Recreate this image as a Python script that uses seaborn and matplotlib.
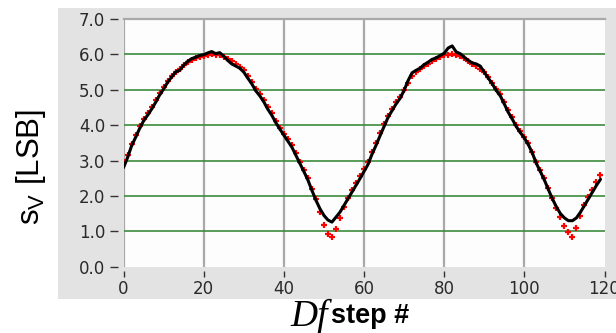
import numpy as np
import pandas as pd
import matplotlib
matplotlib.use("Agg")
import matplotlib.pyplot as plt
from matplotlib.patches import Rectangle
from matplotlib.transforms import ScaledTranslation
import seaborn as sns

# step index of the frequency sweep
steps = list(range(120))

# measured sigma_V (black trace)
measured = [
    2.80, 3.08, 3.41, 3.65, 3.90, 4.12, 4.28, 4.45, 4.64, 4.85,
    5.02, 5.21, 5.36, 5.50, 5.55, 5.69, 5.80, 5.88, 5.92, 5.97,
    5.99, 6.04, 6.08, 6.02, 6.05, 5.95, 5.83, 5.73, 5.67, 5.61,
    5.50, 5.33, 5.17, 4.97, 4.83, 4.66, 4.45, 4.28, 4.07, 3.89,
    3.72, 3.55, 3.38, 3.15, 2.92, 2.69, 2.45, 2.16, 1.88, 1.64,
    1.45, 1.32, 1.26, 1.40, 1.54, 1.73, 1.92, 2.11, 2.30, 2.49,
    2.69, 2.89, 3.18, 3.43, 3.70, 3.96, 4.22, 4.41, 4.60, 4.76,
    4.98, 5.26, 5.48, 5.55, 5.61, 5.71, 5.78, 5.86, 5.90, 5.97,
    6.03, 6.18, 6.24, 6.07, 6.02, 5.92, 5.83, 5.76, 5.73, 5.67,
    5.50, 5.33, 5.17, 4.98, 4.83, 4.60, 4.36, 4.17, 3.96, 3.79,
    3.64, 3.45, 3.21, 2.92, 2.69, 2.45, 2.18, 1.92, 1.69, 1.50,
    1.38, 1.30, 1.30, 1.38, 1.54, 1.73, 1.92, 2.11, 2.30, 2.47,
]

# model sigma_V (red points)
model = [
    2.95, 3.15, 3.48, 3.72, 3.97, 4.18, 4.35, 4.52, 4.70, 4.90,
    5.07, 5.25, 5.38, 5.50, 5.60, 5.70, 5.78, 5.85, 5.90, 5.94,
    5.96, 5.98, 6.00, 5.99, 5.97, 5.93, 5.87, 5.80, 5.72, 5.64,
    5.55, 5.40, 5.22, 5.03, 4.88, 4.70, 4.50, 4.33, 4.12, 3.93,
    3.75, 3.62, 3.45, 3.20, 2.97, 2.74, 2.50, 2.20, 1.90, 1.55,
    1.18, 0.92, 0.85, 1.07, 1.38, 1.70, 1.95, 2.16, 2.36, 2.56,
    2.75, 2.97, 3.25, 3.50, 3.77, 4.02, 4.27, 4.47, 4.65, 4.80,
    5.00, 5.20, 5.38, 5.50, 5.58, 5.66, 5.74, 5.80, 5.87, 5.93,
    5.97, 5.99, 6.00, 5.99, 5.96, 5.90, 5.82, 5.74, 5.68, 5.60,
    5.50, 5.36, 5.20, 5.02, 4.87, 4.65, 4.42, 4.22, 4.00, 3.83,
    3.66, 3.50, 3.25, 2.97, 2.73, 2.50, 2.22, 1.95, 1.65, 1.40,
    1.16, 0.97, 0.85, 1.10, 1.42, 1.75, 1.96, 2.18, 2.40, 2.60,
]

y_ticks = [0.0, 1.0, 2.0, 3.0, 4.0, 5.0, 6.0, 7.0]
x_ticks = [0, 20, 40, 60, 80, 100, 120]

df = pd.DataFrame({"step": steps, "measured": measured, "model": model})

sns.set_theme(style="white")
plt.rcParams["mathtext.fontset"] = "custom"
plt.rcParams["mathtext.rm"] = "Liberation Sans"
plt.rcParams["mathtext.it"] = "Liberation Sans:italic"

W, H = 616, 333
fig = plt.figure(figsize=(W / 100, H / 100), dpi=100, facecolor="white")

# light grey panel behind the plot
panel = Rectangle((58 / W, (H - 299) / H), 1 - 58 / W, (299 - 8) / H,
                  transform=fig.transFigure, facecolor="#e3e3e3",
                  edgecolor="none", zorder=-10)
fig.add_artist(panel)

left, right, top, bottom = 123.5, 604.5, 19.0, 266.7
ax = fig.add_axes([left / W, (H - bottom) / H, (right - left) / W, (bottom - top) / H])
ax.set_zorder(1)
ax.set_facecolor("#fdfdfd")

# grid: grey verticals, green horizontals
for xv in x_ticks[:-1]:
    ax.axvline(xv, color="#a9a9a9", lw=1.6, zorder=1)
for yv in y_ticks[1:-1]:
    ax.axhline(yv, color="#3b8a3b", lw=1.2, zorder=1)

sns.lineplot(data=df, x="step", y="model", ax=ax, color="red", lw=0,
             marker="+", markersize=4.5, markeredgewidth=1.6,
             markeredgecolor="red", zorder=3)
sns.lineplot(data=df, x="step", y="measured", ax=ax, color="black", lw=2.2,
             zorder=4)

ax.set_xlim(0, 120)
ax.set_ylim(0, 7)
ax.set_xticks(x_ticks)
ax.set_xticklabels([str(v) for v in x_ticks])
ax.set_yticks(y_ticks)
ax.set_yticklabels([f"{v:.1f}" for v in y_ticks])
ax.set_xlabel("")
ax.set_ylabel("")

for s in ["right", "bottom", "left"]:
    ax.spines[s].set_visible(False)
ax.spines["top"].set_color("#a9a9a9")
ax.spines["top"].set_linewidth(1.6)

ax.tick_params(axis="y", direction="out", length=5.8, width=1.0, color="#333333",
               pad=7.5, labelsize=12, labelcolor="#2a2a2a", left=True)
ax.tick_params(axis="x", direction="out", length=4.3, width=1.0, color="#333333",
               pad=5.5, labelsize=12, labelcolor="#2a2a2a", bottom=True)
# detach the tick marks from the plot edge
for t in ax.yaxis.get_major_ticks():
    t.tick1line.set_transform(t.tick1line.get_transform() +
                              ScaledTranslation(-5.5 / 100, 0, fig.dpi_scale_trans))
for t in ax.xaxis.get_major_ticks():
    t.tick1line.set_transform(t.tick1line.get_transform() +
                              ScaledTranslation(0, -4.5 / 100, fig.dpi_scale_trans))
for lbl in ax.get_yticklabels() + ax.get_xticklabels():
    lbl.set_fontfamily("DejaVu Sans")

# axis titles
fig.text(31 / W, (H - 167) / H, r"$\mathrm{s_V}$ [LSB]", rotation=90,
         ha="center", va="center", fontsize=22.5, family="Liberation Sans",
         color="black")
fig.text(290 / W, (H - 326) / H, "Df", ha="left", va="baseline", fontsize=27,
         family="Liberation Serif", style="italic", color="black")
fig.text(331 / W, (H - 323) / H, "step #", ha="left", va="baseline", fontsize=19.5,
         family="Liberation Sans", weight="bold", color="black")

fig.savefig("out.png", dpi=100, facecolor="white")
